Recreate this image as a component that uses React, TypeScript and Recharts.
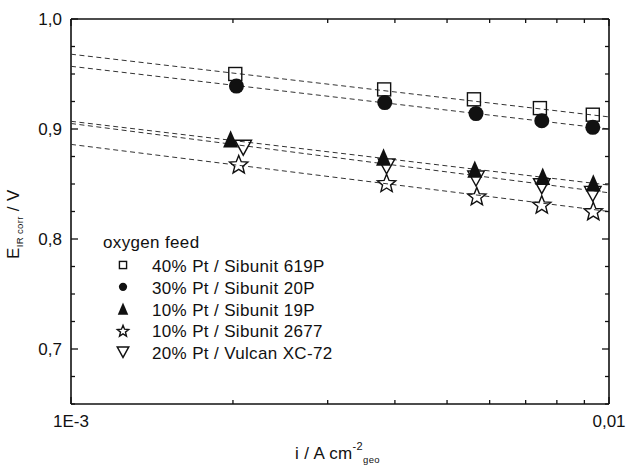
import { ScatterChart, Scatter, XAxis, YAxis, Legend } from "recharts";

const FONT = '"Liberation Sans", Arial, Helvetica, sans-serif';
const INK = "#111";

// current density i / A cm-2 and iR-corrected potential / V
const iPt40Sib619 = [0.00202, 0.00382, 0.00561, 0.00744, 0.00933];
const ePt40Sib619 = [0.95, 0.936, 0.927, 0.919, 0.913];

const iPt30Sib20 = [0.00203, 0.00383, 0.00566, 0.0075, 0.00933];
const ePt30Sib20 = [0.939, 0.924, 0.914, 0.9075, 0.9015];

const iPt10Sib19 = [0.00198, 0.00381, 0.00563, 0.00753, 0.00935];
const ePt10Sib19 = [0.891, 0.8745, 0.8635, 0.857, 0.851];

const iPt10Sib2677 = [0.00205, 0.00386, 0.00568, 0.0075, 0.00935];
const ePt10Sib2677 = [0.868, 0.851, 0.839, 0.8315, 0.8255];

const iPt20Vulcan = [0.00209, 0.00386, 0.00566, 0.0075, 0.00933];
const ePt20Vulcan = [0.883, 0.866, 0.855, 0.848, 0.841];

// Tafel fit lines (dashed), value at i = 1E-3 and i = 0,01
const fitI = [0.001, 0.01];
const fitPt40Sib619 = [0.968, 0.911];
const fitPt30Sib20 = [0.957, 0.9];
const fitPt10Sib19 = [0.907, 0.849];
const fitPt10Sib2677 = [0.886, 0.825];
const fitPt20Vulcan = [0.905, 0.842];

const xTicks = [0.001, 0.002, 0.003, 0.004, 0.005, 0.006, 0.007, 0.008, 0.009, 0.01];
const xMajor = [0.001, 0.01];
const xMajorLabels = ["1E-3", "0,01"];

const yTicks = [0.65, 0.675, 0.7, 0.725, 0.75, 0.775, 0.8, 0.825, 0.85, 0.875, 0.9, 0.925, 0.95, 0.975, 1.0];
const yMajor = [0.7, 0.8, 0.9, 1.0];
const yMajorLabels = ["0,7", "0,8", "0,9", "1,0"];

const legendTitle = "oxygen feed";

const series = [
  { name: "40% Pt / Sibunit 619P", i: iPt40Sib619, e: ePt40Sib619, fit: fitPt40Sib619, marker: "square" },
  { name: "30% Pt / Sibunit 20P", i: iPt30Sib20, e: ePt30Sib20, fit: fitPt30Sib20, marker: "circle" },
  { name: "10% Pt / Sibunit 19P", i: iPt10Sib19, e: ePt10Sib19, fit: fitPt10Sib19, marker: "triangle" },
  { name: "10% Pt / Sibunit 2677", i: iPt10Sib2677, e: ePt10Sib2677, fit: fitPt10Sib2677, marker: "star" },
  { name: "20% Pt / Vulcan XC-72", i: iPt20Vulcan, e: ePt20Vulcan, fit: fitPt20Vulcan, marker: "down" },
];

const near = (a: number, b: number) => Math.abs(a - b) < 1e-9;

function Marker({ kind, cx, cy, s = 1 }: { kind: string; cx: number; cy: number; s?: number }) {
  const sw = 1.4;
  if (kind === "square") {
    const h = 6.5 * s;
    return <rect x={cx - h} y={cy - h} width={2 * h} height={2 * h} fill="none" stroke={INK} strokeWidth={sw} />;
  }
  if (kind === "circle") {
    return <circle cx={cx} cy={cy} r={7.5 * s} fill={INK} />;
  }
  if (kind === "triangle") {
    const w = 7.5 * s;
    const h = 8.7 * s;
    return <polygon points={`${cx},${cy - h} ${cx + w},${cy + h} ${cx - w},${cy + h}`} fill={INK} />;
  }
  if (kind === "down") {
    const w = 8.3 * s;
    const h = 7.5 * s;
    return (
      <polygon
        points={`${cx - w},${cy - h} ${cx + w},${cy - h} ${cx},${cy + h}`}
        fill="none"
        stroke={INK}
        strokeWidth={sw}
      />
    );
  }
  // open five-point star
  const R = 9.6 * s;
  const r = 4.2 * s;
  const pts: string[] = [];
  for (let k = 0; k < 10; k++) {
    const a = (-90 + k * 36) * (Math.PI / 180);
    const rad = k % 2 === 0 ? R : r;
    pts.push(`${cx + rad * Math.cos(a)},${cy + 0.9 + rad * Math.sin(a)}`);
  }
  return <polygon points={pts.join(" ")} fill="none" stroke={INK} strokeWidth={sw} strokeLinejoin="miter" />;
}

const tickText = { fontFamily: FONT, fontSize: 17, fill: INK };
const bodyText = { fontFamily: FONT, fontSize: 17, fill: INK, letterSpacing: 0.35 };

function BottomTick({ x, y, payload }: any) {
  const idx = xMajor.findIndex((v) => near(v, payload.value));
  const major = idx >= 0;
  return (
    <g>
      <line x1={x} y1={y} x2={x} y2={y - (major ? 7 : 4)} stroke={INK} strokeWidth={1.3} />
      {major && (
        <text x={x} y={y + 23} textAnchor="middle" {...tickText}>
          {xMajorLabels[idx]}
        </text>
      )}
    </g>
  );
}

function TopTick({ x, y, payload }: any) {
  const major = xMajor.some((v) => near(v, payload.value));
  return <line x1={x} y1={y} x2={x} y2={y + (major ? 7 : 4)} stroke={INK} strokeWidth={1.3} />;
}

function LeftTick({ x, y, payload }: any) {
  const idx = yMajor.findIndex((v) => near(v, payload.value));
  const major = idx >= 0;
  return (
    <g>
      <line x1={x} y1={y} x2={x + (major ? 7 : 4)} y2={y} stroke={INK} strokeWidth={1.3} />
      {major && (
        <text x={x - 9} y={y + 6} textAnchor="end" {...tickText}>
          {yMajorLabels[idx]}
        </text>
      )}
    </g>
  );
}

function RightTick({ x, y, payload }: any) {
  const major = yMajor.some((v) => near(v, payload.value));
  return <line x1={x} y1={y} x2={x - (major ? 7 : 4)} y2={y} stroke={INK} strokeWidth={1.3} />;
}

function XTitle() {
  return (
    <text x={295} y={459} {...bodyText}>
      i / A cm
      <tspan fontSize={11} dy={-9}>-2</tspan>
      <tspan fontSize={9.5} dy={13}>geo</tspan>
    </text>
  );
}

function YTitle() {
  return (
    <text x={0} y={0} transform="translate(19,259) rotate(-90)" {...bodyText}>
      E
      <tspan fontSize={9.5} dy={4}>IR corr</tspan>
      <tspan dy={-4}> / V</tspan>
    </text>
  );
}

function LegendBox() {
  const rowY = (k: number) => 37 + k * 21.8;
  return (
    <svg width={250} height={140} style={{ display: "block" }}>
      <text x={8} y={20} {...bodyText}>
        {legendTitle}
      </text>
      {series.map((s, k) => (
        <g key={s.name}>
          <Marker kind={s.marker} cx={28} cy={rowY(k)} s={s.marker === "star" ? 0.62 : s.marker === "circle" ? 0.55 : s.marker === "square" ? 0.55 : 0.7} />
          <text x={57} y={rowY(k) + 7} {...bodyText}>
            {s.name}
          </text>
        </g>
      ))}
    </svg>
  );
}

export default function App() {
  const fitData = series.map((s) => fitI.map((i, k) => ({ i, e: s.fit[k] })));
  const pointData = series.map((s) => s.i.map((i, k) => ({ i, e: s.e[k] })));

  return (
    <div style={{ position: "absolute", left: 0, top: 0, background: "#fff" }}>
      <ScatterChart width={627} height={467} margin={{ top: 18, right: 17, bottom: 62, left: 70 }}>
        <XAxis
          xAxisId="b"
          dataKey="i"
          type="number"
          scale="log"
          domain={[0.001, 0.01]}
          allowDataOverflow
          ticks={xTicks}
          interval={0}
          height={1}
          tickSize={0}
          tickMargin={0}
          tickLine={false}
          tick={<BottomTick />}
          axisLine={{ stroke: INK, strokeWidth: 1.6 }}
          label={<XTitle />}
        />
        <XAxis
          xAxisId="t"
          orientation="top"
          dataKey="i"
          type="number"
          scale="log"
          domain={[0.001, 0.01]}
          allowDataOverflow
          ticks={xTicks}
          interval={0}
          height={1}
          tickSize={0}
          tickMargin={0}
          tickLine={false}
          tick={<TopTick />}
          axisLine={{ stroke: INK, strokeWidth: 1.6 }}
        />
        <YAxis
          yAxisId="l"
          dataKey="e"
          type="number"
          domain={[0.65, 1.0]}
          allowDataOverflow
          ticks={yTicks}
          interval={0}
          width={1}
          tickSize={0}
          tickMargin={0}
          tickLine={false}
          tick={<LeftTick />}
          axisLine={{ stroke: INK, strokeWidth: 1.6 }}
          label={<YTitle />}
        />
        <YAxis
          yAxisId="r"
          orientation="right"
          dataKey="e"
          type="number"
          domain={[0.65, 1.0]}
          allowDataOverflow
          ticks={yTicks}
          interval={0}
          width={1}
          tickSize={0}
          tickMargin={0}
          tickLine={false}
          tick={<RightTick />}
          axisLine={{ stroke: INK, strokeWidth: 1.6 }}
        />
        {series.map((s, k) => (
          <Scatter
            key={`fit-${s.name}`}
            xAxisId="b"
            yAxisId="l"
            data={fitData[k]}
            line={{ stroke: "#333", strokeWidth: 1, strokeDasharray: "5 3.5" }}
            shape={() => <g />}
            legendType="none"
            isAnimationActive={false}
          />
        ))}
        {series.map((s, k) => (
          <Scatter
            key={s.name}
            name={s.name}
            xAxisId="b"
            yAxisId="l"
            data={pointData[k]}
            shape={(p: any) => <Marker kind={s.marker} cx={p.cx} cy={p.cy} />}
            isAnimationActive={false}
          />
        ))}
        <Legend
          layout="vertical"
          align="center"
          verticalAlign="middle"
          content={() => <LegendBox />}
          wrapperStyle={{ left: 95, top: 228, width: 250, height: 140 }}
        />
      </ScatterChart>
    </div>
  );
}
